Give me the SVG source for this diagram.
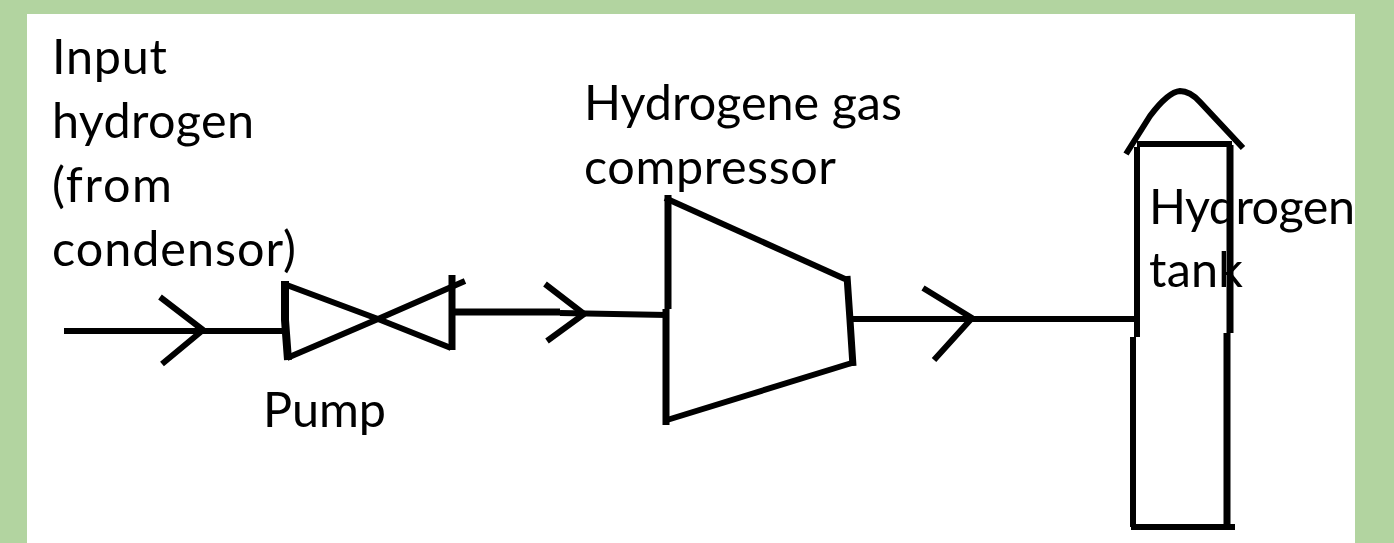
<svg xmlns="http://www.w3.org/2000/svg" width="1394" height="543" viewBox="0 0 1394 543">
<style>
.l{fill:none;stroke:#000;stroke-width:6;stroke-linecap:butt;stroke-linejoin:round}
.t{fill:#000;font-family:"Lato","Open Sans",sans-serif;font-size:48.5px}
</style>
<rect width="1394" height="543" fill="#b2d4a0"/>
<rect x="27" y="14" width="1328" height="529" fill="#fff"/>
<g id="connectors">
<path class="l" d="M64 331H285"/>
<path class="l" d="M160 297L203 330L162 364"/>
<path class="l" style="stroke-width:7" d="M453 312H560"/>
<path class="l" d="M560 313L667 315"/>
<path class="l" d="M545 284L584 314L547 341"/>
<path class="l" d="M850 319H1135"/>
<path class="l" d="M923 288L972 318L934 360"/>
</g>
<g id="pump">
<path class="l" style="stroke-width:8" d="M285 281V320L288 360"/>
<path class="l" d="M284 284L378 319L451 348"/>
<path class="l" d="M287 358L378 319L465 281"/>
<path class="l" style="stroke-width:7" d="M452 275V350"/>
<text class="t" x="263" y="427" textLength="123">Pump</text>
</g>
<g id="compressor">
<path class="l" style="stroke-width:7" d="M668 195V309M666 309V425"/>
<path class="l" d="M665 198L845 279"/>
<path class="l" style="stroke-width:7" d="M847 276L850 320L853 366"/>
<path class="l" d="M855 362L667 420"/>
<text class="t" x="584" y="120" textLength="318">Hydrogene gas</text>
<text class="t" x="584" y="184" textLength="252">compressor</text>
</g>
<g id="tank">
<path class="l" d="M1137 147V337M1133 337V527"/>
<path class="l" style="stroke-width:7" d="M1230 145V333M1227 333V527"/>
<path class="l" d="M1131 527H1235"/>
<path class="l" d="M1137 144H1232"/>
<path class="l" d="M1126 154L1150 116Q1168 92 1180 91Q1190 91 1200 102L1243 148"/>
<text class="t" x="1149" y="224" textLength="206">Hydrogen</text>
<text class="t" x="1149" y="287" textLength="94">tank</text>
</g>
<g id="input-label">
<text class="t" x="52" y="74" textLength="115">Input</text>
<text class="t" x="52" y="138" textLength="202">hydrogen</text>
<text class="t" x="52" y="202" textLength="120">(from</text>
<text class="t" x="52" y="266" textLength="244">condensor)</text>
</g>
</svg>
